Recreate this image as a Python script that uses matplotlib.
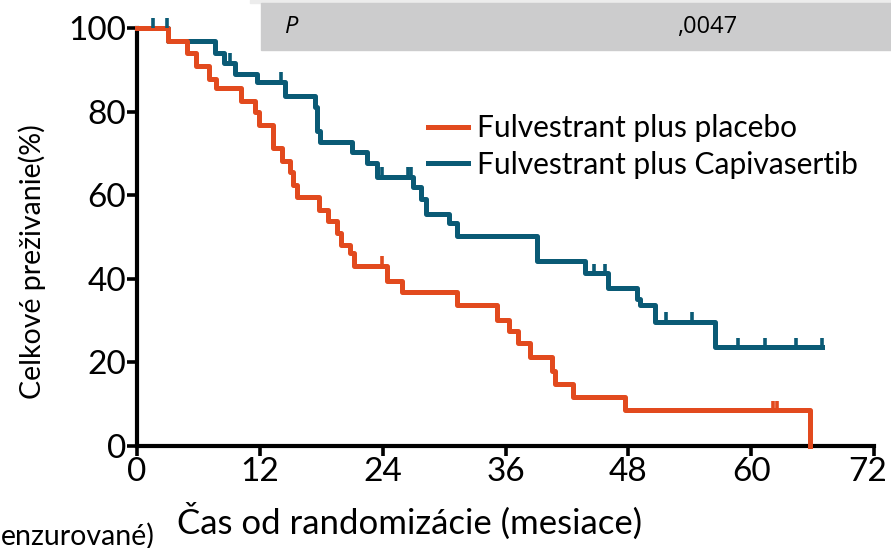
import numpy as np
import matplotlib
matplotlib.use("Agg")
import matplotlib.pyplot as plt
import matplotlib.transforms as mtransforms
from matplotlib.patches import Rectangle

# Kaplan-Meier steps (months, % alive after the step)
placebo_t = [0, 3.0, 4.9, 5.8, 7.0, 7.7, 10.2, 11.5, 11.9, 13.3, 14.2, 14.9, 15.2, 15.6,
             17.8, 18.7, 19.5, 19.9, 20.8, 21.2, 24.4, 25.9, 31.3, 35.2, 36.3, 37.2,
             38.4, 40.5, 40.8, 42.6, 47.7, 65.7]
placebo_s = [100, 97.0, 94.0, 91.0, 87.7, 85.6, 82.5, 80.0, 76.8, 71.2, 68.3, 65.6, 62.4, 59.6,
             56.5, 53.8, 51.0, 48.1, 46.1, 43.1, 39.4, 36.9, 33.7, 30.1, 27.5, 24.6,
             21.3, 17.9, 14.9, 11.7, 8.5, 0]
placebo_cens = [23.9, 62.1, 62.5]

capi_t = [0, 3.0, 7.6, 8.5, 9.6, 11.7, 14.5, 17.4, 17.6, 17.9, 21.0, 22.5, 23.4, 27.0, 27.7,
          28.2, 30.5, 31.3, 39.1, 43.8, 46.0, 48.8, 49.1, 50.6, 56.5, 66.9]
capi_s = [100, 97.0, 94.0, 91.7, 89.1, 87.2, 83.7, 81.2, 75.4, 72.8, 70.3, 67.6, 64.4, 62.0, 59.0,
          55.6, 53.3, 50.3, 44.3, 41.3, 37.7, 35.1, 33.8, 29.7, 23.6, 23.6]
capi_cens = [1.6, 2.9, 9.1, 14.1, 23.9, 26.5, 26.8, 44.6, 45.7, 51.7, 54.2, 58.7, 61.4, 64.4, 66.9]

x_ticks = [0, 12, 24, 36, 48, 60, 72]
y_ticks = [0, 20, 40, 60, 80, 100]
p_value = ",0047"

orange = "#E24A1E"
teal = "#0A5A75"

plt.rcParams['font.family'] = ['Lato', 'DejaVu Sans']

fig = plt.figure(figsize=(8.91, 5.48), dpi=100)
ax = fig.add_axes([137 / 891, 102 / 548, 737 / 891, 418 / 548])


def censor_marks(times, steps_t, steps_s, color):
    # survival level at each censoring time
    idx = np.searchsorted(steps_t, times, side='right') - 1
    levels = np.array(steps_s)[idx]
    ax.vlines(times, levels, levels + 2.3, color=color, lw=2.6, clip_on=False, zorder=3)


ax.step(placebo_t, placebo_s, where='post', color=orange, lw=3.6, clip_on=False,
        label='Fulvestrant plus placebo', zorder=3)
ax.step(capi_t, capi_s, where='post', color=teal, lw=3.6, clip_on=False,
        label='Fulvestrant plus Capivasertib', zorder=2)
censor_marks(placebo_cens, placebo_t, placebo_s, orange)
censor_marks(capi_cens, capi_t, capi_s, teal)

ax.set_xlim(0, 72)
ax.set_ylim(0, 100)
ax.set_xticks(x_ticks)
ax.set_yticks(y_ticks)
ax.tick_params(axis='both', labelsize=24, width=2.6, length=7, pad=1)
for side in ['top', 'right']:
    ax.spines[side].set_visible(False)
for side in ['left', 'bottom']:
    ax.spines[side].set_linewidth(3)

# keep the last x label inside the figure
last = ax.get_xticklabels()[-1]
last.set_transform(last.get_transform() +
                   mtransforms.ScaledTranslation(-6 / 100, 0, fig.dpi_scale_trans))

ax.set_xlabel('Čas od randomizácie (mesiace)', fontsize=25, va='center')
ax.xaxis.set_label_coords(0.37, -0.18)
ax.set_ylabel('Celkové preživanie(%)', fontsize=20.5, va='center')
ax.yaxis.set_label_coords(-0.1425, 0.44)

ax.legend(loc='center left', bbox_to_anchor=(428 / 891, 1 - 146.5 / 548),
          bbox_transform=fig.transFigure, frameon=False, fontsize=21.5,
          handlelength=1.34, handletextpad=0.3, labelspacing=0.28,
          borderpad=0, borderaxespad=0)

# grey p-value banner at the top
fig.patches.append(Rectangle((250 / 891, 1 - 3 / 548), 1, 3 / 548, transform=fig.transFigure,
                             color='#ececec', zorder=0))
fig.patches.append(Rectangle((261 / 891, 1 - 50 / 548), 1, 47 / 548, transform=fig.transFigure,
                             color='#cccccd', zorder=0))
fig.text(285 / 891, 1 - 27 / 548, 'P', fontsize=17, style='italic', va='center',
         family='Open Sans')
fig.text(677 / 891, 1 - 27 / 548, p_value, fontsize=17, va='center', family='Open Sans')

fig.text(1 / 891, 1 - 536 / 548, 'enzurované)', fontsize=20.5, ha='left', va='center')

fig.savefig('out.png', dpi=100)
